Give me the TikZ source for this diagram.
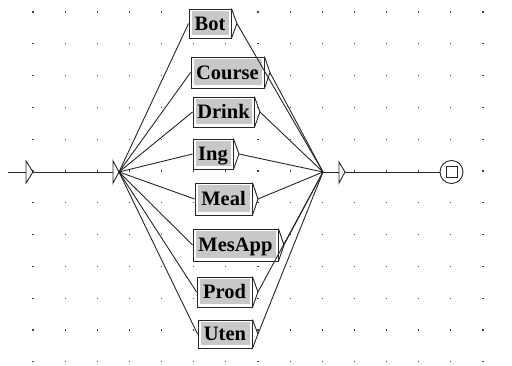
\documentclass[tikz,border=0pt]{standalone}
\usepackage{fontspec}
\setmainfont{Liberation Serif}
\usetikzlibrary{calc}
\definecolor{boxgray}{RGB}{200,200,200}
\definecolor{griddot}{RGB}{70,70,70}
\begin{document}
\begin{tikzpicture}[x=1pt,y=-1pt,
  wire/.style={draw=black!85, line width=0.9pt},
  word/.style={draw=black!85, line width=0.9pt, fill=white, inner sep=0pt,
    font=\fontsize{20.5}{21}\selectfont\bfseries, text height=13.5pt, text depth=0pt,
    path picture={\fill[boxgray]
      ([shift={(2.5pt,-2.5pt)}]path picture bounding box.north west) rectangle
      ([shift={(-2.5pt,2.5pt)}]path picture bounding box.south east);}},
  final/.style={circle, draw=black!85, line width=0.9pt, fill=white, minimum size=23pt, inner sep=0pt},
  finalsq/.style={draw=black!85, line width=0.9pt, minimum size=11pt, inner sep=0pt}
]
\useasboundingbox (0,0) rectangle (512,366);

% background grid of dots
\foreach \i in {0,...,14}
  \foreach \j in {0,...,11}
    \fill[griddot] ({33+32.14*\i-0.6},{12+31.8*\j-0.6}) rectangle +(1.2,1.2);

% initial state and empty transition boxes
\coordinate (in0) at (8,172);
\coordinate (in1) at (26,172);
\coordinate (in1t) at (26,161);
\coordinate (in1b) at (26,183);
\coordinate (in1tip) at (33,172);
\coordinate (e1) at (113,172);
\coordinate (e1t) at (113,161);
\coordinate (e1b) at (113,183);
\coordinate (split) at (119,172);
\coordinate (merge) at (323,172);
\coordinate (e2) at (339,172);
\coordinate (e2t) at (339,162);
\coordinate (e2b) at (339,183);
\coordinate (e2tip) at (345,172);

\draw[wire] (in0) -- (in1);
\draw[wire] (in1t) -- (in1tip) -- (in1b) -- cycle;
\draw[wire] (in1tip) -- (e1);
\draw[wire] (e1t) -- (split) -- (e1b) -- cycle;
\draw[wire] (merge) -- (e2);
\draw[wire] (e2t) -- (e2tip) -- (e2b) -- cycle;

% word boxes
\node[word, minimum width=42pt, minimum height=29pt] (bot)    at (210,23.5)  {Bot};
\node[word, minimum width=73pt, minimum height=31pt] (course) at (227.5,72.5) {Course};
\node[word, minimum width=61pt, minimum height=30pt] (drink)  at (223.5,112)  {Drink};
\node[word, minimum width=40pt, minimum height=30pt] (ing)    at (213,154)    {Ing};
\node[word, minimum width=57pt, minimum height=32pt] (meal)   at (223.5,199)  {Meal};
\node[word, minimum width=85pt, minimum height=32pt] (mesapp) at (235.5,245)  {MesApp};
\node[word, minimum width=55pt, minimum height=30pt] (prod)   at (224.5,292)  {Prod};
\node[word, minimum width=54pt, minimum height=28pt] (uten)   at (225,334)    {Uten};

% transitions through every box
\foreach \n in {bot,course,drink,ing,meal,mesapp,prod,uten} {
  \coordinate (\n-tip) at ($(\n.east)+(5.5pt,0pt)$);
  \draw[wire] (\n.north east) -- (\n-tip) -- (\n.south east);
  \draw[wire] (split) -- (\n.west);
  \draw[wire] (\n-tip) -- (merge);
}

% final state
\node[final] (fin) at (451.5,172) {};
\node[finalsq] (finsq) at (fin.center) {};
\draw[wire] (e2tip) -- (fin.west);
\end{tikzpicture}
\end{document}
